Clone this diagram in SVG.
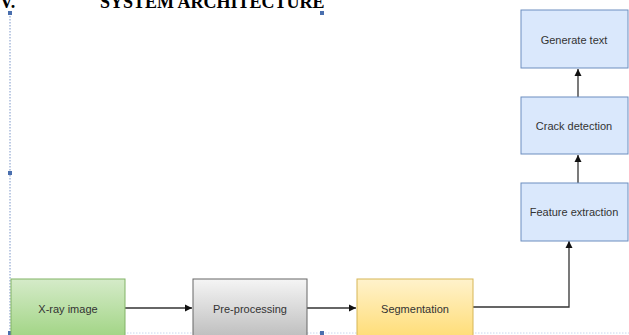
<svg xmlns="http://www.w3.org/2000/svg" width="629" height="335" viewBox="0 0 629 335">
<style>
.lbl{font-family:"Liberation Sans",Arial,sans-serif;font-size:11px;fill:#333;text-anchor:middle;dominant-baseline:central}
.blue{fill:#dae8fc;stroke:#6c8ebf;stroke-width:1}
.edge{fill:none;stroke:#333;stroke-width:1.3}
.h{fill:#4a6fae}
.title{font-family:"Liberation Serif","Times New Roman",serif;font-weight:bold;font-size:18px;fill:#000}
</style>
<defs>
<linearGradient id="gGreen" x1="0" y1="0" x2="0" y2="1"><stop offset="0" stop-color="#d5ebc9"/><stop offset="1" stop-color="#97d077"/></linearGradient>
<linearGradient id="gGray" x1="0" y1="0" x2="0" y2="1"><stop offset="0" stop-color="#f5f5f5"/><stop offset="1" stop-color="#b3b3b3"/></linearGradient>
<linearGradient id="gYellow" x1="0" y1="0" x2="0" y2="1"><stop offset="0" stop-color="#fff2cc"/><stop offset="1" stop-color="#ffd966"/></linearGradient>
<marker id="arr" markerWidth="8" markerHeight="8" refX="7" refY="4" orient="auto" markerUnits="userSpaceOnUse"><path d="M0,0.5 L7,4 L0,7.5 Z" fill="#111"/></marker>
</defs>
<rect width="629" height="335" fill="#fff"/>
<text class="title" x="0" y="8">V.</text>
<text class="title" x="100" y="8">SYSTEM ARCHITECTURE</text>
<g id="selection">
<line x1="10" y1="13" x2="10" y2="335" stroke="#7a95c8" stroke-width="1" stroke-dasharray="1.5,1.5"/>
<line x1="10" y1="333" x2="629" y2="333" stroke="#c8d6ee" stroke-width="1" stroke-dasharray="1.5,1.5"/>
<rect class="h" x="8" y="11" width="4" height="4"/>
<rect class="h" x="320" y="11" width="4" height="4"/>
<rect class="h" x="8" y="171" width="4" height="4"/>
<rect class="h" x="8" y="331" width="4" height="4"/>
<rect class="h" x="320" y="331" width="4" height="4"/>
</g>
<g id="connectors">
<line class="edge" x1="125" y1="308" x2="192" y2="308" marker-end="url(#arr)"/>
<line class="edge" x1="307" y1="308" x2="356" y2="308" marker-end="url(#arr)"/>
<polyline class="edge" points="473,307 569,307 569,241" marker-end="url(#arr)"/>
<line class="edge" x1="578" y1="183" x2="578" y2="155" marker-end="url(#arr)"/>
<line class="edge" x1="578" y1="97" x2="578" y2="69" marker-end="url(#arr)"/>
</g>
<g id="xray"><rect x="11" y="279" width="114" height="70" fill="url(#gGreen)" stroke="#82b366"/><text class="lbl" x="68" y="309">X-ray image</text></g>
<g id="preprocessing"><rect x="193" y="279" width="114" height="70" fill="url(#gGray)" stroke="#666"/><text class="lbl" x="250" y="309">Pre-processing</text></g>
<g id="segmentation"><rect x="357" y="279" width="116" height="70" fill="url(#gYellow)" stroke="#d6b656"/><text class="lbl" x="415" y="309">Segmentation</text></g>
<g id="feature"><rect class="blue" x="521" y="183" width="107" height="58"/><text class="lbl" x="574" y="212">Feature extraction</text></g>
<g id="crack"><rect class="blue" x="521" y="97" width="107" height="57"/><text class="lbl" x="574" y="126">Crack detection</text></g>
<g id="generate"><rect class="blue" x="521" y="10" width="107" height="58"/><text class="lbl" x="574" y="40">Generate text</text></g>
</svg>
